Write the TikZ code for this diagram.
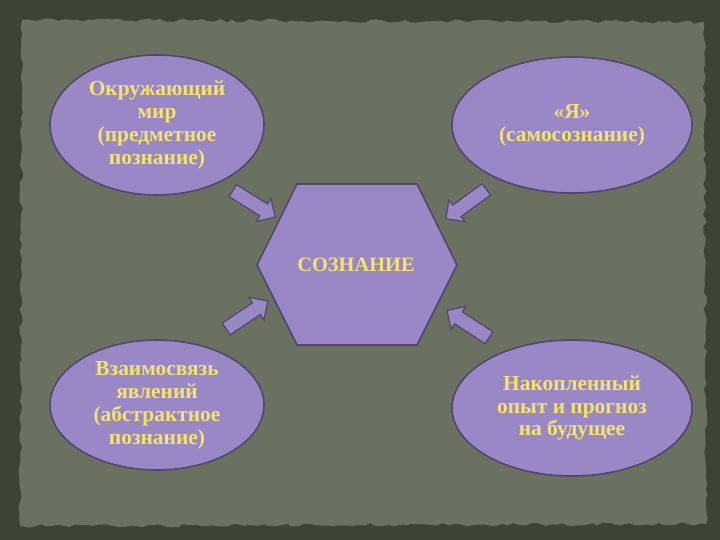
\documentclass[tikz,border=0pt]{standalone}
\usepackage{fontspec}
\setmainfont{Liberation Serif}
\usetikzlibrary{shapes.geometric,shapes.arrows,decorations.pathmorphing}
\definecolor{outerbg}{HTML}{3C4535}
\definecolor{paper}{HTML}{6A7161}
\definecolor{lav}{HTML}{9A87C5}
\definecolor{lavedge}{HTML}{54466F}
\definecolor{txt}{HTML}{F4E46A}
\tikzset{
  bubble/.style={ellipse, fill=lav, draw=lavedge, line width=1.6bp, inner sep=0pt,
    align=center, text=txt, font=\fontsize{21.5}{23}\selectfont\bfseries},
  fatarrow/.style={single arrow, fill=lav, draw=lavedge, line width=1.2bp, inner sep=6.5bp,
    single arrow head extend=6.5bp, minimum height=50bp},
  hexlabel/.style={text=txt, font=\fontsize{20.5}{23}\selectfont\bfseries, inner sep=0pt}
}
\begin{document}
\begin{tikzpicture}[x=1bp,y=-1bp]
\useasboundingbox (0,0) rectangle (720,540);
\fill[outerbg] (0,0) rectangle (720,540);
\pgfmathsetseed{7}
\fill[paper, decorate, decoration={random steps, segment length=6bp, amplitude=1.8bp}]
  (22,20) -- (704,22) -- (706,524) -- (20,526) -- cycle;
% hexagon
\draw[fill=lav, draw=lavedge, line width=1.6bp]
  (297,184) -- (417,184) -- (457,265) -- (417,345) -- (297,345) -- (257,265) -- cycle;
\node[hexlabel] (core) at (356,265) {СОЗНАНИЕ};
% ellipses
\node[bubble, minimum width=214bp, minimum height=140bp] (world) at (157,125)
  {Окружающий\\мир\\(предметное\\познание)};
\node[bubble, minimum width=240bp, minimum height=136bp] (self) at (572,125)
  {«Я»\\(самосознание)};
\node[bubble, minimum width=214bp, minimum height=130bp] (link) at (157,405)
  {Взаимосвязь\\явлений\\(абстрактное\\познание)};
\node[bubble, minimum width=240bp, minimum height=136bp] (exp) at (572,408)
  {Накопленный\\опыт и прогноз\\на будущее};
% block arrows
\node[fatarrow, rotate=-32] (a1) at (251,202) {};
\node[fatarrow, rotate=-144] (a2) at (469,202) {};
\node[fatarrow, rotate=34] (a3) at (244,317) {};
\node[fatarrow, rotate=147] (a4) at (471,326) {};
\end{tikzpicture}
\end{document}
